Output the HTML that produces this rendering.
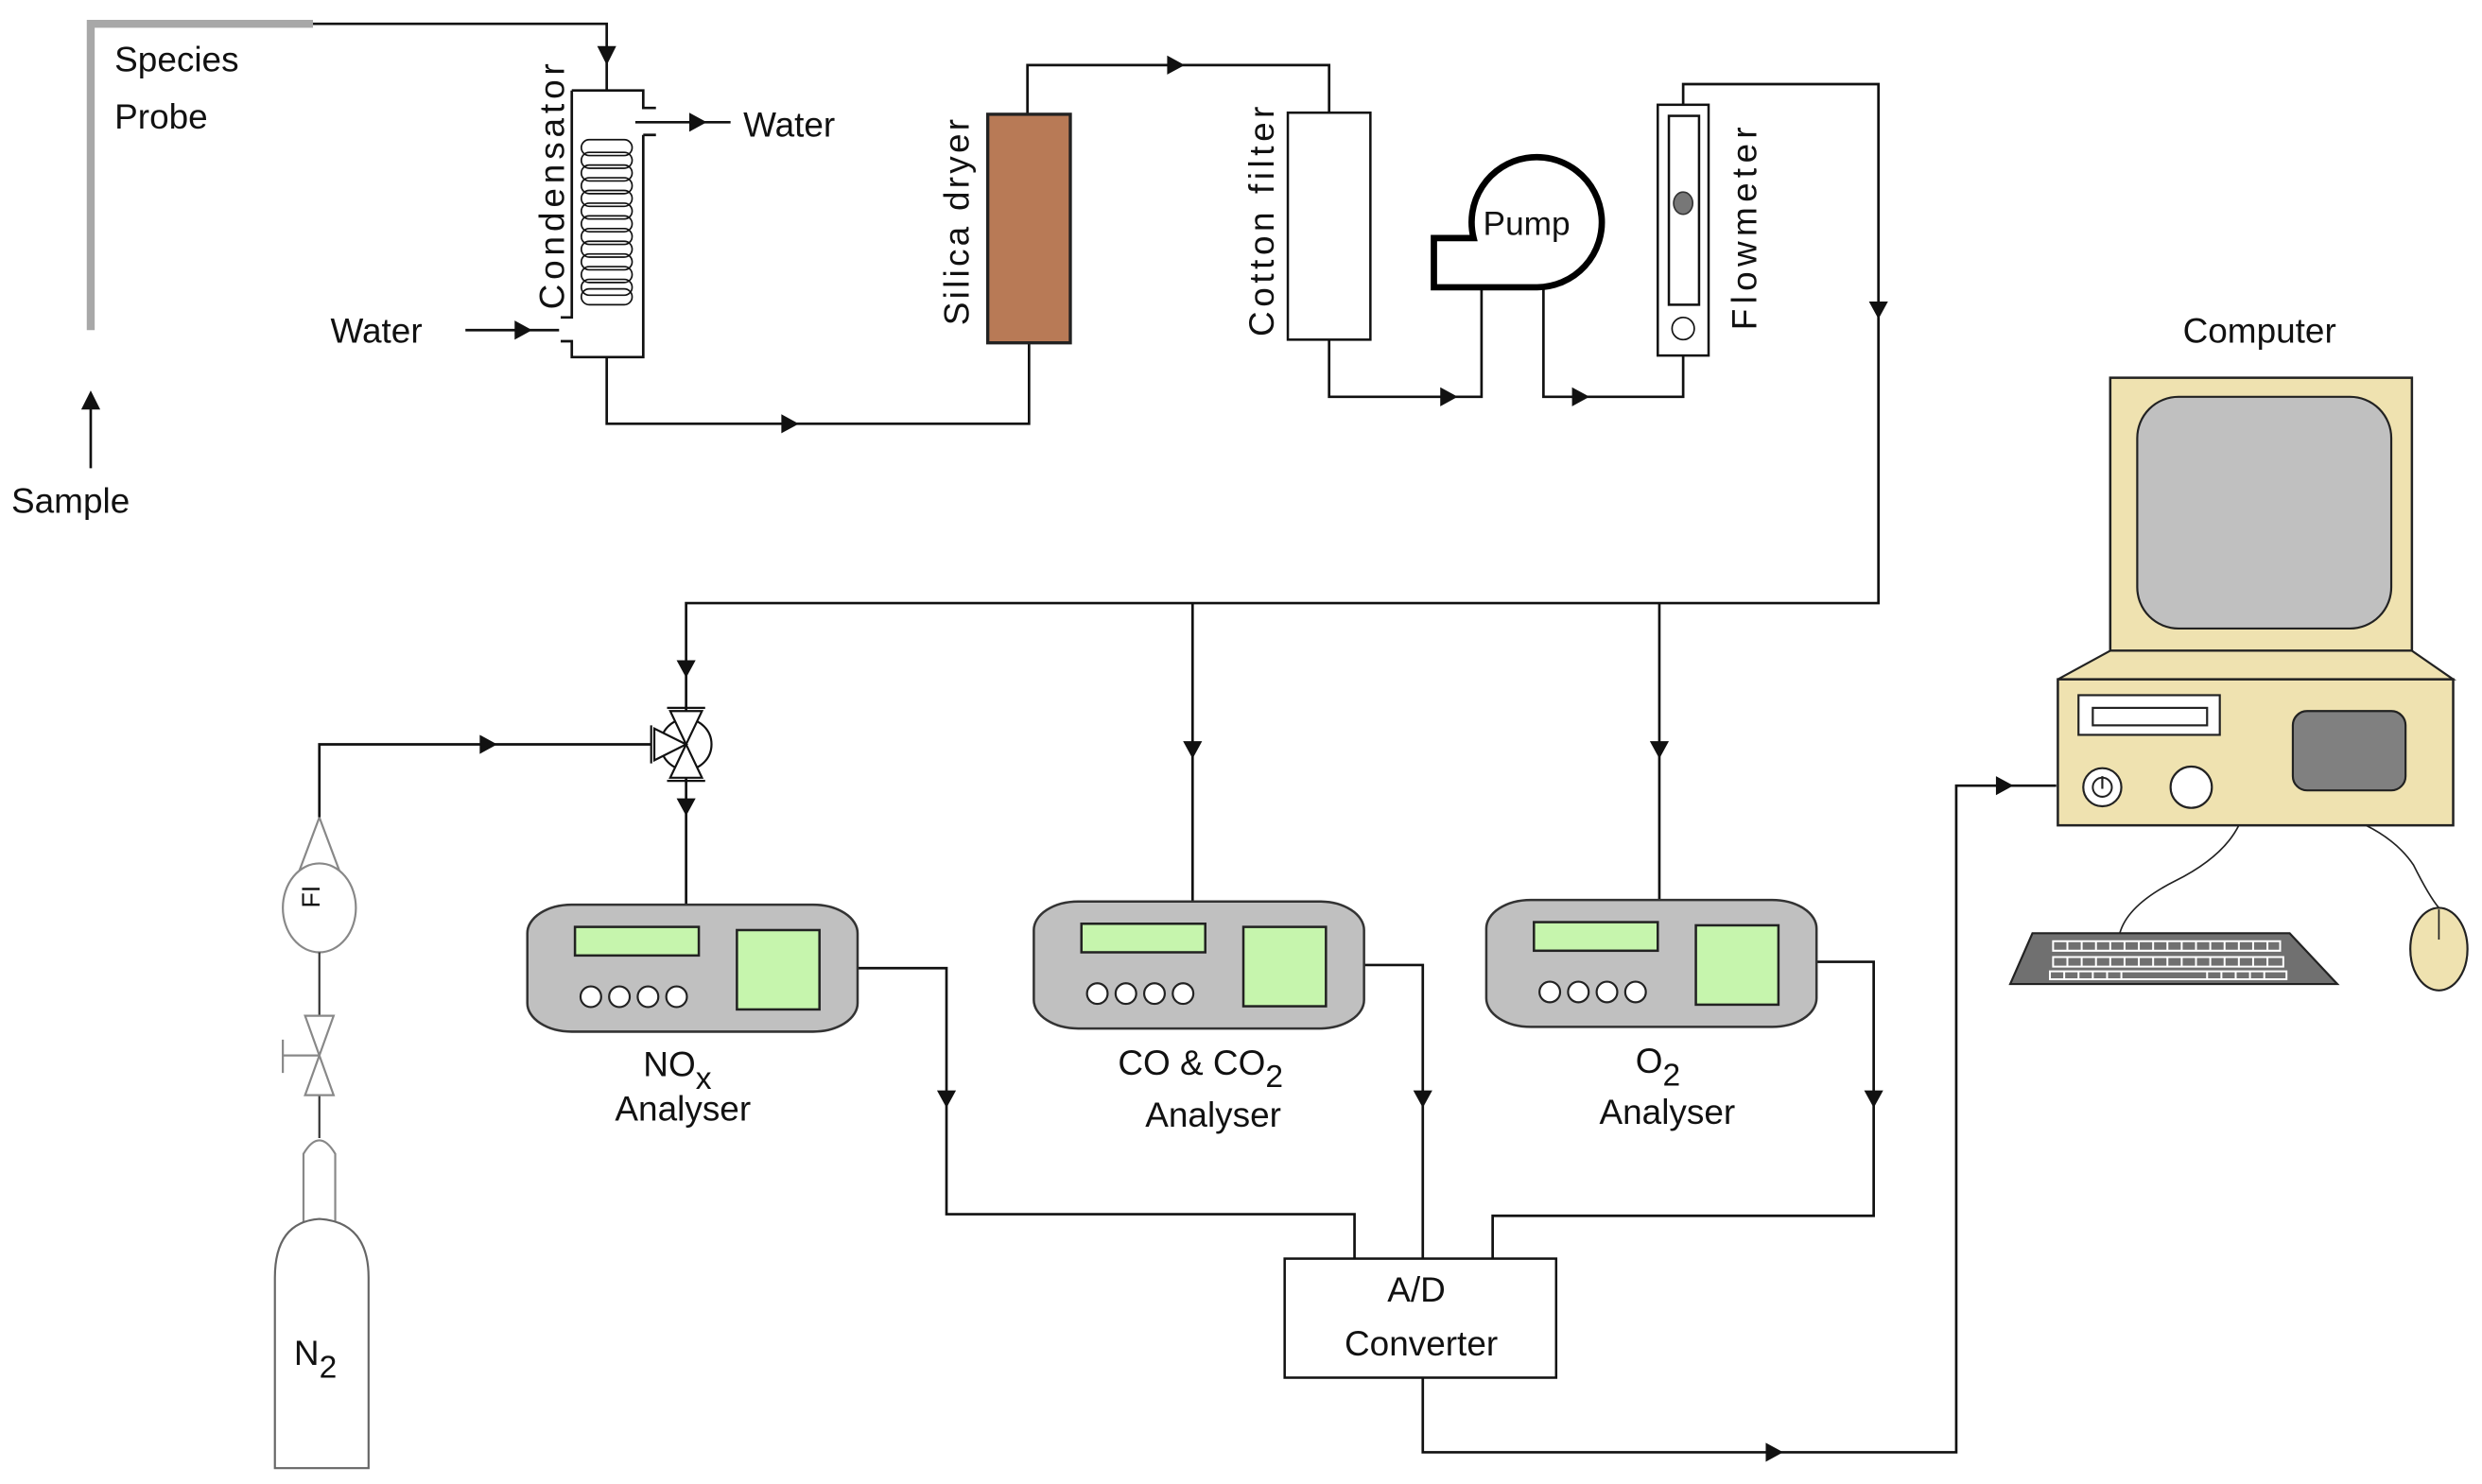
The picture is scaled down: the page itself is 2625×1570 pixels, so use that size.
<!DOCTYPE html>
<html><head><meta charset="utf-8"><style>
html,body{margin:0;padding:0;background:#fff;}
svg{display:block;}
text{font-family:"Liberation Sans",sans-serif;fill:#111;}
</style></head><body>
<svg width="2625" height="1570" viewBox="0 0 1563 935" xmlns="http://www.w3.org/2000/svg">
<g fill="none" stroke="#111" stroke-width="1.6">
<!-- probe -->
<path d="M57,208 L57,15 L197,15" stroke="#a8a8a8" stroke-width="5"/>
<path d="M197,15 L382,15 L382,57"/>
<path d="M57,295 L57,248"/>
<!-- condenser -->
<path d="M360,57 L405,57 L405,68 L413,68 M405,85 L413,85 M405,85 L405,225 L360,225 L360,215 L353,215 M353,200 L360,200 L360,57" />
<path d="M400,77 L460,77"/>
<path d="M293,208 L352,208"/>
<path d="M382,225 L382,267 L648,267 L648,216"/>
<path d="M647,72 L647,41 L837,41 L837,71"/>
<path d="M837,214 L837,250 L933,250 L933,182"/>
<path d="M972,181 L972,250 L1060,250 L1060,224"/>
<path d="M1060,66 L1060,53 L1183,53 L1183,380 L432,380 L432,450"/>
<path d="M751,380 L751,570 M1045,380 L1045,570"/>
<path d="M432,488 L432,570"/>
<path d="M201,515 L201,469 L410,469"/>
<!-- analyser outputs -->
<path d="M540,610 L596,610 L596,765 L853,765 L853,793"/>
<path d="M858,608 L896,608 L896,793"/>
<path d="M1144,606 L1180,606 L1180,766 L940,766 L940,793"/>
<path d="M896,868 L896,915 L1232,915 L1232,495 L1295,495"/>
</g>
<!-- arrowheads -->
<g fill="#111">
<polygon points="376,29 388,29 382,41"/>
<polygon points="51,258 63,258 57,246"/>
<polygon points="434,71 434,83 445,77"/>
<polygon points="324,202 324,214 335,208"/>
<polygon points="492,261 492,273 503,267"/>
<polygon points="735,35 735,47 746,41"/>
<polygon points="907,244 907,256 918,250"/>
<polygon points="990,244 990,256 1001,250"/>
<polygon points="1177,190 1189,190 1183,201"/>
<polygon points="426,416 438,416 432,427"/>
<polygon points="745,467 757,467 751,478"/>
<polygon points="1039,467 1051,467 1045,478"/>
<polygon points="426,503 438,503 432,514"/>
<polygon points="302,463 302,475 313,469"/>
<polygon points="590,687 602,687 596,698"/>
<polygon points="890,687 902,687 896,698"/>
<polygon points="1174,687 1186,687 1180,698"/>
<polygon points="1112,909 1112,921 1123,915"/>
<polygon points="1257,489 1257,501 1268,495"/>
</g>
<!-- coil -->
<g fill="none" stroke="#111" stroke-width="1">
<rect x="366" y="88" width="32" height="10" rx="5"/><rect x="366" y="96" width="32" height="10" rx="5"/><rect x="366" y="104" width="32" height="10" rx="5"/><rect x="366" y="112" width="32" height="10" rx="5"/><rect x="366" y="120" width="32" height="10" rx="5"/><rect x="366" y="128" width="32" height="10" rx="5"/><rect x="366" y="136" width="32" height="10" rx="5"/><rect x="366" y="144" width="32" height="10" rx="5"/><rect x="366" y="152" width="32" height="10" rx="5"/><rect x="366" y="160" width="32" height="10" rx="5"/><rect x="366" y="168" width="32" height="10" rx="5"/><rect x="366" y="176" width="32" height="10" rx="5"/><rect x="366" y="182" width="32" height="10" rx="5"/>
</g>
<!-- silica, cotton -->
<rect x="622" y="72" width="52" height="144" fill="#b87a56" stroke="#222" stroke-width="2"/>
<rect x="811" y="71" width="52" height="143" fill="#fff" stroke="#111" stroke-width="1.5"/>
<!-- pump -->
<path d="M928,150 L903,150 L903,181 L968,181 A41,41 0 1,0 928,150 Z" fill="#fff" stroke="#000" stroke-width="4"/>
<!-- flowmeter -->
<rect x="1044" y="66" width="32" height="158" fill="#fff" stroke="#111" stroke-width="1.5"/>
<rect x="1051" y="73" width="19" height="119" fill="#fff" stroke="#111" stroke-width="1.5"/>
<ellipse cx="1060" cy="128" rx="6" ry="7" fill="#777" stroke="#333"/>
<circle cx="1060" cy="207" r="7" fill="#fff" stroke="#111"/>
<!-- 3 way valve -->
<g fill="#fff" stroke="#111" stroke-width="1.3">
<circle cx="432" cy="469" r="16"/>
<path d="M432,469 L422,448 L442,448 Z M432,469 L422,490 L442,490 Z M432,469 L412,459 L412,479 Z"/>
<path d="M420,446 L444,446 M420,492 L444,492 M410,457 L410,481"/>
</g>
<!-- N2 side -->
<g fill="#fff" stroke="#888" stroke-width="1.3">
<path d="M201,515 L186,555 M201,515 L216,555"/>
<ellipse cx="201" cy="572" rx="23" ry="28"/>
<path d="M201,600 L201,717" stroke="#333"/>
<path d="M192,640 L210,640 L192,690 L210,690 Z"/>
<path d="M178,665 L201,665 M178,655 L178,676"/>
<path d="M191,770 L191,727 Q201,710 211,727 L211,770"/>
<path d="M173,925 L173,805 Q173,770 201,768 Q232,770 232,805 L232,925 Z" stroke="#666"/>
</g>
<text x="208" y="572" font-size="16" transform="rotate(-90 201 572)" text-anchor="middle">FI</text>
<!-- analysers -->
<g id="an">
<rect x="332" y="570" width="208" height="80" rx="28" ry="18" fill="#c0c0c0" stroke="#333" stroke-width="1.5"/>
<rect x="362" y="584" width="78" height="18" fill="#c6f5ad" stroke="#222" stroke-width="1.5"/>
<rect x="464" y="586" width="52" height="50" fill="#c6f5ad" stroke="#222" stroke-width="1.5"/>
<g fill="#fff" stroke="#222" stroke-width="1.3"><circle cx="372" cy="628" r="6.5"/><circle cx="390" cy="628" r="6.5"/><circle cx="408" cy="628" r="6.5"/><circle cx="426" cy="628" r="6.5"/></g>
</g>
<use href="#an" transform="translate(319,-2)"/>
<use href="#an" transform="translate(604,-3)"/>
<!-- A/D -->
<rect x="809" y="793" width="171" height="75" fill="#fff" stroke="#111" stroke-width="1.5"/>
<!-- computer -->
<rect x="1329" y="238" width="190" height="172" fill="#efe2b0" stroke="#222" stroke-width="1.5"/>
<rect x="1346" y="250" width="160" height="146" rx="26" fill="#c0c0c0" stroke="#222" stroke-width="1.3"/>
<path d="M1329,410 L1296,428 L1545,428 L1519,410 Z" fill="#efe2b0" stroke="#222" stroke-width="1.3"/>
<rect x="1296" y="428" width="249" height="92" fill="#efe2b0" stroke="#222" stroke-width="1.5"/>
<rect x="1309" y="438" width="89" height="25" fill="#fff" stroke="#222" stroke-width="1.3"/>
<rect x="1318" y="446" width="72" height="11" fill="#fff" stroke="#222" stroke-width="1.3"/>
<rect x="1444" y="448" width="71" height="50" rx="9" fill="#808080" stroke="#222" stroke-width="1.3"/>
<circle cx="1324" cy="496" r="12" fill="#fff" stroke="#222" stroke-width="1.3"/>
<circle cx="1324" cy="496" r="6" fill="none" stroke="#222" stroke-width="1.2"/>
<path d="M1324,489 L1324,497" stroke="#222" stroke-width="1.3"/>
<circle cx="1380" cy="496" r="13" fill="#fff" stroke="#222" stroke-width="1.3"/>
<path d="M1410,520 Q1400,540 1370,555 Q1340,570 1335,588" fill="none" stroke="#222" stroke-width="1"/>
<path d="M1490,520 Q1510,530 1520,545 Q1530,565 1536,572" fill="none" stroke="#222" stroke-width="1"/>
<path d="M1280,588 L1442,588 L1472,620 L1266,620 Z" fill="#707070" stroke="#222" stroke-width="1.3"/>
<g fill="none" stroke="#fff" stroke-width="1.2">
<path d="M1293,593 L1436,593 L1436,599 L1293,599 Z M1293,603 L1438,603 L1438,609 L1293,609 Z M1291,612 L1440,612 L1440,617 L1291,617 Z"/>
<path d="M1302,593 V599 M1311,593 V599 M1320,593 V599 M1329,593 V599 M1338,593 V599 M1347,593 V599 M1356,593 V599 M1365,593 V599 M1374,593 V599 M1383,593 V599 M1392,593 V599 M1401,593 V599 M1410,593 V599 M1419,593 V599 M1428,593 V599"/>
<path d="M1302,603 V609 M1311,603 V609 M1320,603 V609 M1329,603 V609 M1338,603 V609 M1347,603 V609 M1356,603 V609 M1365,603 V609 M1374,603 V609 M1383,603 V609 M1392,603 V609 M1401,603 V609 M1410,603 V609 M1419,603 V609 M1428,603 V609"/>
<path d="M1300,612 V617 M1309,612 V617 M1318,612 V617 M1327,612 V617 M1336,612 V617 M1390,612 V617 M1399,612 V617 M1408,612 V617 M1417,612 V617 M1426,612 V617"/>
</g>
<ellipse cx="1536" cy="598" rx="18" ry="26" fill="#efe2b0" stroke="#222" stroke-width="1.3"/>
<path d="M1536,573 L1536,592" stroke="#222"/>
<!-- text -->
<g font-size="22">
<text x="72" y="45">Species</text>
<text x="72" y="81">Probe</text>
<text x="7" y="323">Sample</text>
<text x="468" y="86">Water</text>
<text x="208" y="216">Water</text>
<text x="0" y="0" transform="translate(355,195) rotate(-90)" textLength="155">Condensator</text>
<text x="0" y="0" transform="translate(610,205) rotate(-90)" textLength="130">Silica dryer</text>
<text x="0" y="0" transform="translate(802,212) rotate(-90)" textLength="145">Cotton filter</text>
<text x="0" y="0" transform="translate(1106,208) rotate(-90)" textLength="128">Flowmeter</text>
<text x="934" y="148" font-size="21">Pump</text>
<text x="1423" y="216" text-anchor="middle">Computer</text>
<text x="405" y="678">NO<tspan font-size="20" dy="8">x</tspan></text>
<text x="430" y="706" text-anchor="middle">Analyser</text>
<text x="704" y="677">CO &amp; CO<tspan font-size="20" dy="8">2</tspan></text>
<text x="764" y="710" text-anchor="middle">Analyser</text>
<text x="1030" y="676">O<tspan font-size="20" dy="8">2</tspan></text>
<text x="1050" y="708" text-anchor="middle">Analyser</text>
<text x="892" y="820" text-anchor="middle">A/D</text>
<text x="895" y="854" text-anchor="middle">Converter</text>
<text x="185" y="860">N<tspan font-size="20" dy="8">2</tspan></text>
</g>
</svg>
</body></html>
